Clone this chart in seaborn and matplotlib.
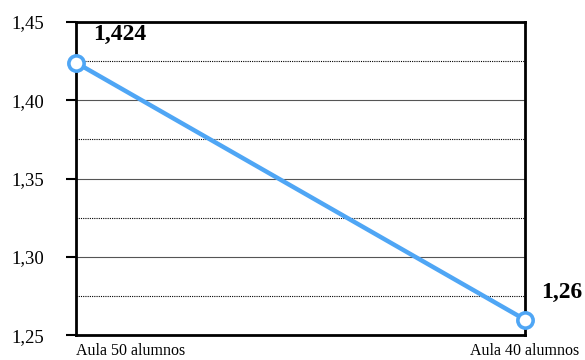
import matplotlib
matplotlib.use("Agg")
import matplotlib.pyplot as plt
import numpy as np
import pandas as pd
import seaborn as sns

# data
categories = ["Aula 50 alumnos", "Aula 40 alumnos"]
values = [1.424, 1.26]
value_labels = ["1,424", "1,26"]

y_major = [1.25, 1.30, 1.35, 1.40, 1.45]
y_dotted = [1.275, 1.325, 1.375, 1.425]

LINE_BLUE = "#4FA6F5"

sns.set_style("white")
plt.rcParams["font.family"] = ["Liberation Serif", "DejaVu Serif"]
plt.rcParams.update({"text.color": "black", "xtick.color": "black",
                     "ytick.color": "black", "axes.labelcolor": "black"})

df = pd.DataFrame({"pos": np.arange(len(categories)), "value": values})

fig = plt.figure(figsize=(5.85, 3.6), dpi=100)
ax = fig.add_axes([0.130, 0.069, 0.767, 0.870])

# grid: solid at major ticks, dotted half-way between
for y in y_major[1:-1]:
    ax.axhline(y, color="#555555", lw=0.8, zorder=1)
for y in y_dotted:
    ax.axhline(y, color="black", lw=0.8, ls=(0, (1.0, 1.0)), zorder=1)

sns.lineplot(data=df, x="pos", y="value", ax=ax, color=LINE_BLUE, lw=3.2,
             marker="o", markersize=11, markerfacecolor="white",
             markeredgecolor=LINE_BLUE, markeredgewidth=2.6, zorder=5,
             clip_on=False)

ax.set_xlim(0, 1)
ax.set_ylim(1.25, 1.45)
ax.set_yticks(y_major)
ax.set_yticklabels([f"{v:.2f}".replace(".", ",") for v in y_major], fontsize=13.5)
ax.tick_params(axis="y", left=True, direction="out", length=7, width=1.5,
               pad=16, color="black")

ax.set_xticks(df["pos"])
ax.set_xticklabels(categories, fontsize=11.5)
ax.tick_params(axis="x", bottom=False, pad=2)
xt = ax.get_xticklabels()
xt[0].set_ha("left")
xt[1].set_ha("center")

for side in ["left", "right", "top", "bottom"]:
    ax.spines[side].set_visible(True)
    ax.spines[side].set_color("black")
    ax.spines[side].set_linewidth(2.0)

ax.set_xlabel("")
ax.set_ylabel("")

# value labels
ax.annotate(value_labels[0], (df["pos"][0], values[0]), xytext=(12, 20),
            textcoords="offset points", fontsize=17, fontweight="bold",
            ha="left", va="center", annotation_clip=False, zorder=6)
ax.annotate(value_labels[1], (df["pos"][1], values[1]), xytext=(12, 19.5),
            textcoords="offset points", fontsize=17, fontweight="bold",
            ha="left", va="center", annotation_clip=False, zorder=6)

fig.savefig("out.png", dpi=100)
